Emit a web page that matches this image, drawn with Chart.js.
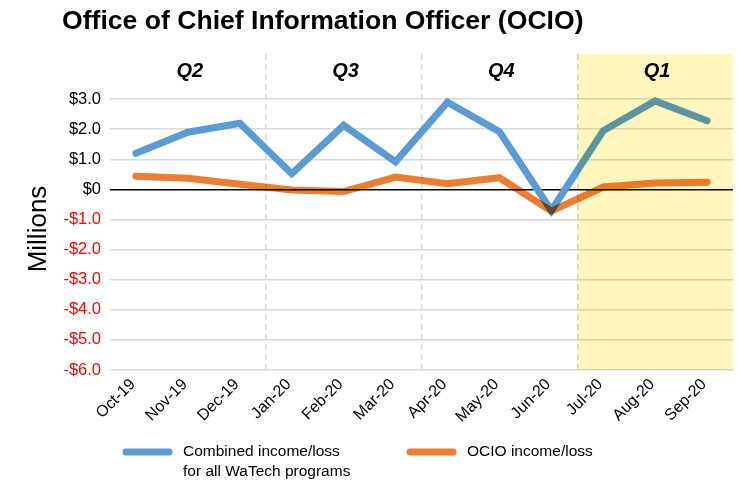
<!DOCTYPE html>
<html>
<head>
<meta charset="utf-8">
<title>OCIO income/loss</title>
<script src="https://cdn.jsdelivr.net/npm/chart.js@4"></script>
<style>
  html, body { margin: 0; padding: 0; background: #fff; }
  #wrap { position: relative; width: 739px; height: 482px; }
</style>
</head>
<body>
<div id="wrap"><canvas id="chart"></canvas></div>
<script>
const months = ['Oct-19', 'Nov-19', 'Dec-19', 'Jan-20', 'Feb-20', 'Mar-20',
                'Apr-20', 'May-20', 'Jun-20', 'Jul-20', 'Aug-20', 'Sep-20'];
// $ millions
const combined = [1.2, 1.9, 2.2, 0.52, 2.13, 0.92, 2.9, 1.92, -0.7, 1.95, 2.94, 2.28];
const ocio = [0.44, 0.37, 0.17, -0.02, -0.07, 0.41, 0.19, 0.39, -0.72, 0.08, 0.21, 0.24];
const quarters = ['Q2', 'Q3', 'Q4', 'Q1'];
const yTicks = [-6, -5, -4, -3, -2, -1, 0, 1, 2, 3];

const FONT = "'Liberation Sans', Arial, sans-serif";
const BLUE = '#5b9bd5';
const ORANGE = '#ed7d31';

function money(v) {
  if (v === 0) return '$0';
  return (v < 0 ? '-$' : '$') + Math.abs(v).toFixed(1);
}

// pixel of the boundary between category i-1 and i
function boundary(x, i) {
  return (x.getPixelForValue(i - 1) + x.getPixelForValue(i)) / 2;
}

const decorations = {
  id: 'decorations',
  beforeDatasetDraw(chart, args) {
    // orange line multiplies where it crosses the blue one
    if (args.index === 1) {
      chart.ctx.save();
      chart.ctx.globalCompositeOperation = 'multiply';
    }
  },
  afterDatasetDraw(chart, args) {
    if (args.index === 1) chart.ctx.restore();
  },
  afterDatasetsDraw(chart) {
    const { ctx, chartArea: a, scales: { x } } = chart;
    // current quarter highlight
    const left = boundary(x, 9);
    ctx.save();
    ctx.globalCompositeOperation = 'multiply';
    ctx.fillStyle = '#fff6bd';
    ctx.fillRect(left, a.top, a.right - left, a.bottom - a.top);
    ctx.restore();
  },
  afterDraw(chart) {
    const { ctx, chartArea: a, scales: { x } } = chart;
    ctx.save();
    ctx.fillStyle = '#000';
    ctx.textBaseline = 'middle';

    // title
    ctx.textAlign = 'left';
    ctx.font = 'bold 26.6px ' + FONT;
    ctx.fillText('Office of Chief Information Officer (OCIO)', 62, 22);

    // quarter labels
    ctx.textAlign = 'center';
    ctx.font = 'italic bold 20px ' + FONT;
    quarters.forEach((q, i) => {
      const cx = (x.getPixelForValue(i * 3) + x.getPixelForValue(i * 3 + 2)) / 2;
      ctx.fillText(q, cx + 2, a.top + 17);
    });

    // axis title
    ctx.save();
    ctx.translate(39, 229);
    ctx.rotate(-Math.PI / 2);
    ctx.font = '26px ' + FONT;
    ctx.fillText('Millions', 0, 0);
    ctx.restore();

    // legend
    ctx.lineCap = 'round';
    ctx.lineWidth = 7;
    ctx.font = '15.5px ' + FONT;
    ctx.textAlign = 'left';
    ctx.strokeStyle = BLUE;
    ctx.beginPath(); ctx.moveTo(126, 452); ctx.lineTo(169, 452); ctx.stroke();
    ctx.fillText('Combined income/loss', 183, 452);
    ctx.fillText('for all WaTech programs', 183, 472);
    ctx.strokeStyle = ORANGE;
    ctx.beginPath(); ctx.moveTo(410, 452); ctx.lineTo(453, 452); ctx.stroke();
    ctx.fillText('OCIO income/loss', 467, 452);
    ctx.restore();
  }
};

new Chart(document.getElementById('chart'), {
  type: 'line',
  data: {
    labels: months,
    datasets: [
      {
        label: 'Combined income/loss for all WaTech programs',
        data: combined,
        borderColor: BLUE,
        borderWidth: 7,
        borderCapStyle: 'round',
        pointRadius: 0,
        order: 1
      },
      {
        label: 'OCIO income/loss',
        data: ocio,
        borderColor: ORANGE,
        borderWidth: 7,
        borderCapStyle: 'round',
        pointRadius: 0,
        order: 0
      }
    ]
  },
  options: {
    responsive: true,
    maintainAspectRatio: false,
    animation: false,
    layout: { padding: { top: 54, right: 6, bottom: 57, left: 0 } },
    plugins: {
      legend: { display: false },
      tooltip: { enabled: false }
    },
    scales: {
      x: {
        offset: true,
        afterFit(scale) { scale.height = 55; },
        grid: {
          offset: true,
          drawTicks: false,
          lineWidth: 1.5,
          // dashed separators between quarters only
          color: (c) => [3, 6, 9].includes(c.index) ? '#d9d9d9' : 'transparent'
        },
        border: { display: false, dash: [6, 4] },
        ticks: {
          autoSkip: false,
          minRotation: 45,
          maxRotation: 45,
          padding: 5,
          labelOffset: -3,
          color: '#000',
          font: { family: FONT, size: 16 }
        }
      },
      y: {
        min: -6,
        max: 4.5,
        afterBuildTicks(scale) { scale.ticks = yTicks.map(v => ({ value: v })); },
        afterFit(scale) { scale.width = 110; },
        grid: {
          drawTicks: false,
          color: (c) => c.tick && c.tick.value === 0 ? '#000' : '#d9d9d9',
          lineWidth: 1.5
        },
        border: { display: false },
        ticks: {
          padding: 9,
          color: (c) => c.tick && c.tick.value < 0 ? '#ff0000' : '#000',
          font: { family: FONT, size: 16.5 },
          callback: (v) => money(v)
        }
      }
    }
  },
  plugins: [decorations]
});
</script>
</body>
</html>
